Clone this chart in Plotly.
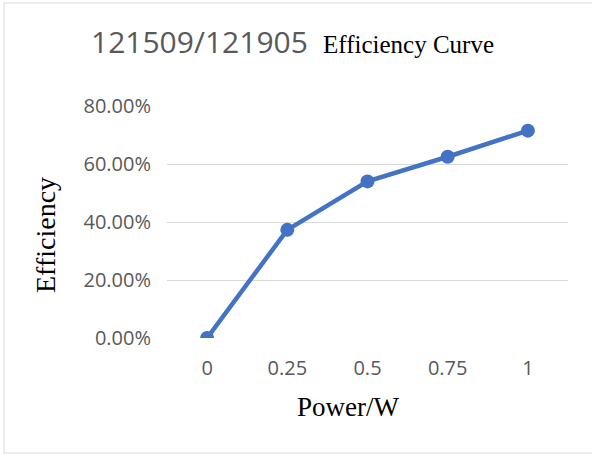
import plotly.graph_objects as go

power_labels = ["0", "0.25", "0.5", "0.75", "1"]
efficiency = [0.0, 0.373, 0.540, 0.625, 0.715]
y_ticks = [0.0, 0.2, 0.4, 0.6, 0.8]

W, H = 592, 455
L, R, T, B = 167, 24, 106, 117
pw, ph = W - L - R, H - T - B

def px(x):
    return (x - L) / pw

def py(y):
    return (H - B - y) / ph

fig = go.Figure()
fig.add_trace(go.Scatter(
    x=power_labels, y=efficiency, mode="lines+markers",
    line=dict(color="#4472C4", width=4.5),
    marker=dict(color="#4472C4", size=14),
    showlegend=False,
))

border = dict(color="#D9D9D9", width=1)
tick_font = dict(family="Open Sans", size=20, color="#595959")
fig.update_layout(
    width=W, height=H,
    margin=dict(l=L, r=R, t=T, b=B),
    paper_bgcolor="white", plot_bgcolor="white",
    xaxis=dict(type="category", range=[-0.5, 4.5], showgrid=False,
               showline=False, zeroline=False, tickfont=tick_font,
               ticks="", ticklabelstandoff=16),
    yaxis=dict(range=[0, 0.8], tickvals=y_ticks, tickformat=".2%",
               showgrid=True, gridcolor="#D9D9D9", gridwidth=1,
               zeroline=False, showline=False, tickfont=tick_font,
               ticks="", ticklabelstandoff=15),
    shapes=[
        dict(type="line", xref="paper", yref="paper", x0=px(4), x1=px(4),
             y0=py(453), y1=py(3), line=border, layer="below"),
        dict(type="line", xref="paper", yref="paper", x0=px(4), x1=px(592),
             y0=py(3), y1=py(3), line=border, layer="below"),
        dict(type="line", xref="paper", yref="paper", x0=px(4), x1=px(592),
             y0=py(453), y1=py(453), line=border, layer="below"),
    ],
    annotations=[
        dict(text="121509/121905", xref="paper", yref="paper",
             x=px(310), y=py(41), xanchor="right", yanchor="middle",
             showarrow=False, font=dict(family="Open Sans", size=30, color="#595959")),
        dict(text="Efficiency Curve", xref="paper", yref="paper",
             x=px(321), y=py(44), xanchor="left", yanchor="middle",
             showarrow=False, font=dict(family="Liberation Serif", size=25, color="black")),
        dict(text="Efficiency", xref="paper", yref="paper",
             x=px(45), y=py(235), xanchor="center", yanchor="middle",
             textangle=-90, showarrow=False,
             font=dict(family="Liberation Serif", size=28, color="black")),
        dict(text="Power/W", xref="paper", yref="paper",
             x=px(348), y=py(407), xanchor="center", yanchor="middle",
             showarrow=False, font=dict(family="Liberation Serif", size=27, color="black")),
    ],
)

fig.write_html("out.html", config={"displayModeBar": False},
               post_script="document.body.style.margin='0';")
